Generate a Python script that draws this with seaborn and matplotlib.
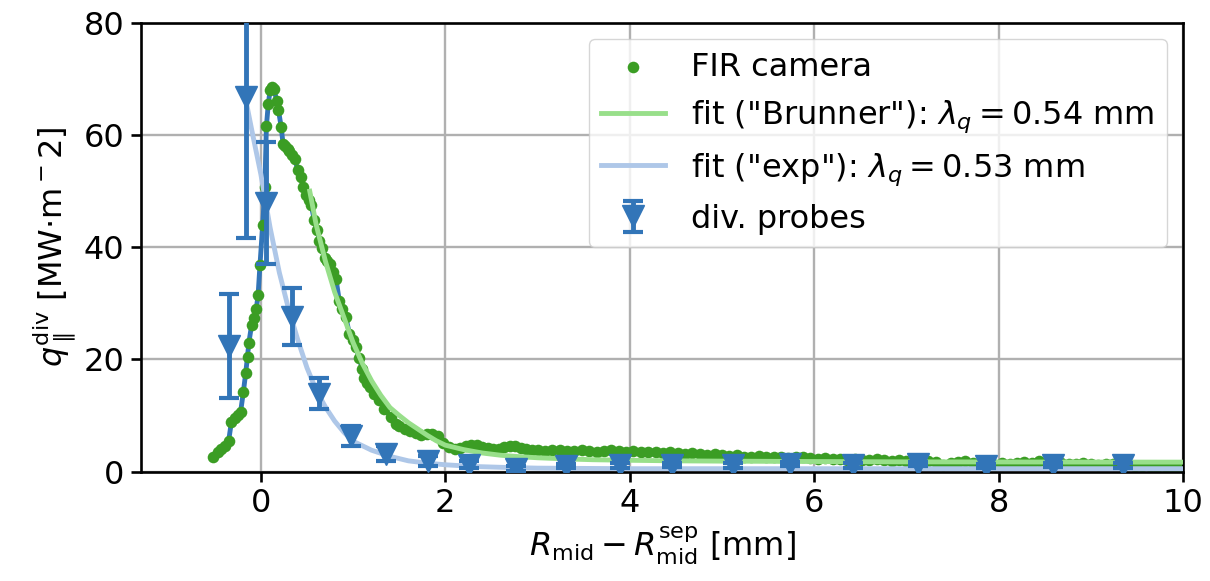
import numpy as np
import pandas as pd
import matplotlib
matplotlib.use('Agg')
import matplotlib.pyplot as plt
import seaborn as sns

# FIR camera profile
fir_x = [-0.515, -0.47, -0.43, -0.39, -0.35, -0.32, -0.28, -0.25, -0.22, -0.19,
         -0.165, -0.145, -0.13, -0.10, -0.075, -0.05, -0.03, -0.01, 0.02, 0.043,
         0.06, 0.08, 0.10, 0.125, 0.145, 0.17, 0.19, 0.22, 0.24, 0.26,
         0.29, 0.31, 0.34, 0.37, 0.40, 0.43, 0.46, 0.49, 0.52, 0.545,
         0.58, 0.61, 0.635, 0.66, 0.69, 0.72, 0.745, 0.78, 0.815, 0.85,
         0.885, 0.92, 0.96, 0.995, 1.03, 1.065, 1.10, 1.12, 1.15, 1.18,
         1.23, 1.285, 1.34, 1.41, 1.46,
         1.50, 1.56, 1.62, 1.68, 1.74, 1.80, 1.86, 1.92, 1.98, 2.04,
         2.10, 2.16, 2.22, 2.28, 2.34, 2.40, 2.46, 2.52, 2.58, 2.64,
         2.70, 2.76, 2.82, 2.88, 2.94,
         3.00, 3.08, 3.16, 3.24, 3.32, 3.40, 3.48, 3.56, 3.64, 3.72,
         3.80, 3.88, 3.96, 4.04, 4.12, 4.20, 4.28, 4.36, 4.44, 4.52,
         4.60, 4.68, 4.76, 4.84, 4.92, 5.00, 5.08, 5.16, 5.24, 5.32,
         5.40, 5.48, 5.56, 5.64, 5.72, 5.80, 5.88, 5.96, 6.04, 6.12,
         6.20, 6.28, 6.36, 6.44, 6.52, 6.60, 6.68, 6.76, 6.84, 6.92,
         7.00, 7.08, 7.16, 7.24, 7.32, 7.40, 7.48, 7.56, 7.64, 7.72,
         7.80, 7.88, 7.96, 8.04, 8.12, 8.20, 8.28, 8.36, 8.44, 8.52,
         8.60, 8.68, 8.76, 8.84, 8.92, 9.00, 9.08, 9.16, 9.24, 9.32,
         9.40, 9.48, 9.56, 9.64, 9.72, 9.80, 9.88, 9.96]
fir_y = [2.6, 3.4, 4.0, 4.6, 5.4, 8.8, 9.6, 10.0, 10.6, 14.2,
         17.5, 20.5, 23.0, 26.2, 27.3, 29.0, 31.5, 36.8, 44.0, 50.8,
         61.6, 65.5, 68.0, 68.5, 68.3, 66.0, 64.5, 61.5, 58.5, 58.0,
         57.5, 57.2, 56.5, 55.8, 53.7, 52.5, 50.8, 49.3, 48.5, 47.6,
         44.8, 43.0, 41.2, 39.8, 38.0, 37.5, 37.0, 35.5, 34.3, 30.5,
         29.0, 27.6, 24.6, 23.5, 22.2, 20.3, 18.3, 16.6, 15.8, 15.1,
         13.9, 12.7, 11.2, 9.7, 8.5,
         8.2, 7.6, 7.2, 6.8, 6.5, 6.6, 6.7, 6.3, 5.1, 4.3,
         4.1, 4.2, 4.5, 4.8, 4.7, 4.4, 4.2, 4.0, 4.1, 4.4,
         4.6, 4.5, 4.2, 4.0, 3.9,
         3.8, 3.7, 3.9, 3.8, 3.6, 3.7, 3.8, 3.6, 3.5, 3.7,
         3.8, 3.6, 3.5, 3.6, 3.5, 3.4, 3.5, 3.3, 3.4, 3.3,
         3.2, 3.3, 3.1, 3.0, 3.1, 2.9, 2.8, 2.9, 2.6, 2.5,
         2.7, 2.6, 2.5, 2.6, 2.4, 2.5, 2.6, 2.4, 2.3, 2.4,
         2.2, 2.3, 2.1, 2.2, 2.0, 2.1, 2.2, 2.0, 1.9, 2.0,
         1.8, 1.3, 1.9, 1.8, 1.7, 1.2, 1.6, 1.7, 1.8, 1.6,
         1.5, 1.6, 1.2, 1.5, 1.4, 1.6, 1.7, 1.5, 1.8, 1.6,
         1.4, 1.5, 1.3, 1.4, 1.5, 1.3, 1.2, 1.4, 1.3, 1.1,
         1.2, 1.0, 0.9, 1.0, 0.8, 0.9, 0.7, 0.8]

# "Brunner" fit
brunner_x = [0.53, 0.6, 0.7, 0.8, 0.9, 1.0, 1.1, 1.2, 1.3, 1.4,
             1.5, 1.6, 1.7, 1.8, 1.9, 2.0, 2.2, 2.4, 2.6, 2.8,
             3.0, 3.3, 3.6, 4.0, 4.5, 5.0, 6.0, 7.0, 8.0, 9.0, 10.0]
brunner_y = [50.0, 44.0, 37.5, 32.0, 27.5, 23.0, 19.3, 16.2, 13.6, 11.4,
             10.0, 8.7, 7.6, 6.5, 5.5, 4.7, 3.9, 3.3, 2.9, 2.65,
             2.45, 2.25, 2.1, 2.0, 1.9, 1.85, 1.78, 1.72, 1.7, 1.68, 1.67]

# "exp" fit
exp_x = [-0.16, -0.1, 0.0, 0.1, 0.2, 0.3, 0.4, 0.5, 0.6, 0.7,
         0.8, 0.9, 1.0, 1.2, 1.4, 1.6, 1.8, 2.0, 2.3, 2.6,
         3.0, 4.0, 5.0, 6.0, 8.0, 10.0]
exp_y = [66.0, 61.0, 53.0, 43.5, 35.5, 29.0, 23.5, 18.5, 14.5, 11.5,
         9.0, 7.0, 5.4, 3.8, 2.7, 1.9, 1.5, 1.2, 0.9, 0.75,
         0.6, 0.5, 0.5, 0.5, 0.5, 0.5]

# divertor probes
probe_x = [-0.35, -0.16, 0.06, 0.34, 0.63, 0.98, 1.36, 1.81, 2.26, 2.77,
           3.31, 3.89, 4.46, 5.12, 5.74, 6.42, 7.13, 7.86, 8.59, 9.35]
probe_y = [22.4, 66.8, 47.9, 27.6, 13.9, 6.4, 3.2, 1.9, 1.2, 0.5,
           1.0, 1.1, 1.2, 1.1, 1.3, 1.1, 1.3, 1.0, 1.2, 1.1]
probe_err = [9.3, 25.2, 10.9, 5.1, 2.7, 1.8, 1.3, 0.9, 0.6, 0.4,
             0.4, 0.4, 0.4, 0.4, 0.4, 0.4, 0.4, 0.4, 0.4, 0.4]

c_blue = '#3275b8'
c_green = '#3b9d24'
c_lgreen = '#98df8a'
c_lblue = '#aec7e8'
fs = 23

plt.rcParams['font.family'] = ['DejaVu Sans']
plt.rcParams['font.size'] = fs
plt.rcParams['mathtext.fontset'] = 'dejavusans'

fir = pd.DataFrame({'x': fir_x, 'y': fir_y})
brunner = pd.DataFrame({'x': brunner_x, 'y': brunner_y})
expfit = pd.DataFrame({'x': exp_x, 'y': exp_y})

fig = plt.figure(figsize=(12.1, 5.81), dpi=100)
ax = fig.add_axes([141 / 1210, 1 - 471.5 / 581, (1183 - 141) / 1210, (471.5 - 23) / 581])

sns.lineplot(data=fir, x='x', y='y', sort=False, estimator=None, color=c_blue,
             lw=3.5, ax=ax, zorder=2)
sns.scatterplot(data=fir, x='x', y='y', color=c_green, s=70, linewidth=0,
                ax=ax, zorder=2.5, label='FIR camera')
sns.lineplot(data=brunner, x='x', y='y', sort=False, estimator=None, color=c_lgreen,
             lw=3.5, ax=ax, zorder=3, label=r'fit ("Brunner"): $\lambda_q = 0.54$ mm')
sns.lineplot(data=expfit, x='x', y='y', sort=False, estimator=None, color=c_lblue,
             lw=3.5, ax=ax, zorder=3, label=r'fit ("exp"): $\lambda_q = 0.53$ mm')
eb = ax.errorbar(probe_x, probe_y, yerr=probe_err, fmt='v', color=c_blue, ms=16,
                 elinewidth=3.5, capsize=7, capthick=3, zorder=5, label='div. probes')

ax.set_xlim(-1.3, 10)
ax.set_ylim(0, 80)
ax.set_xticks([0, 2, 4, 6, 8, 10])
ax.set_yticks([0, 20, 40, 60, 80])
ax.grid(True, color='#b0b0b0', lw=1.7)
ax.set_axisbelow(True)
for s in ax.spines.values():
    s.set_linewidth(1.9)
ax.tick_params(length=7, width=1.9, labelsize=fs, pad=5)
ax.set_xlabel(r'$R_\mathrm{mid} - R_\mathrm{mid}^\mathrm{sep}$ [mm]', fontsize=fs)
ax.set_ylabel(r'$q_\parallel^\mathrm{div}$ [MW$\cdot$m$^-2$]', fontsize=fs)

h, l = ax.get_legend_handles_labels()
order = ['FIR camera', r'fit ("Brunner"): $\lambda_q = 0.54$ mm',
         r'fit ("exp"): $\lambda_q = 0.53$ mm', 'div. probes']
hd = dict(zip(l, h))
ax.legend([hd[k] for k in order], order, loc='upper right', fontsize=fs)

plt.savefig('out.png', dpi=100)
